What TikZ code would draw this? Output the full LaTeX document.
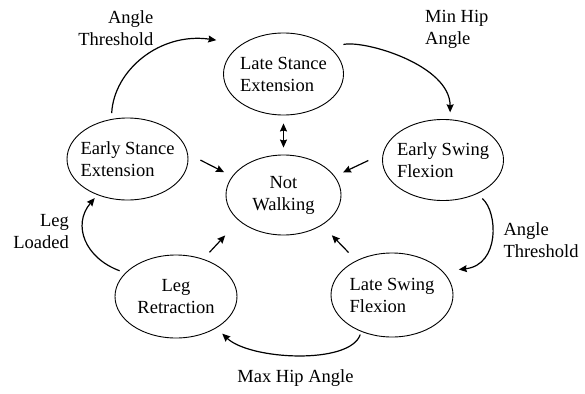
\documentclass[tikz,border=0pt]{standalone}
\usepackage{fontspec}
\setmainfont{Liberation Serif}
\usetikzlibrary{shapes.geometric,arrows.meta}
\begin{document}
\begin{tikzpicture}[x=1pt,y=-1pt,
  st/.style={ellipse,draw,line width=0.9pt,inner xsep=-15pt,inner ysep=0pt,
    minimum width=121pt,minimum height=82pt,font=\fontsize{18.5}{22}\selectfont},
  lbl/.style={inner sep=0pt,font=\fontsize{18.5}{22}\selectfont},
  arr/.style={line width=1.2pt,-{Stealth[length=8pt,width=7pt,inset=1pt]}},
  darr/.style={line width=1.2pt,{Stealth[length=8pt,width=7pt,inset=1pt]}-{Stealth[length=8pt,width=7pt,inset=1pt]}}
]
\useasboundingbox (0,0) rectangle (585,393);

% states
\node[st,align=left,minimum width=120pt,minimum height=82pt] (lse) at (283.5,74) {Late Stance\\Extension};
\node[st,align=left,minimum width=121pt,minimum height=81pt] (esf) at (443,160) {Early Swing\\Flexion};
\node[st,align=left] (ese) at (127.5,159) {Early Stance\\Extension};
\node[st,align=center,minimum width=115pt,minimum height=80pt] (nw) at (283.5,195) {Not\\Walking};
\node[st,align=center,minimum width=122pt,minimum height=83pt] (lr) at (176,296.5) {Leg\\Retraction};
\node[st,align=left,minimum width=122pt,minimum height=84pt] (lsf) at (392,295) {Late Swing\\Flexion};

% transitions to Not Walking
\draw[arr,shorten <=14pt,shorten >=9pt] (ese.5) -- (nw.160);
\draw[arr,shorten <=16pt,shorten >=9pt] (esf.174) -- (nw.20);
\draw[arr,shorten <=9pt,shorten >=20pt] (lr.54) -- (nw.210);
\draw[arr,shorten <=11pt,shorten >=14pt] (lsf.136) -- (nw.322);
\draw[darr,shorten <=8pt,shorten >=7pt] (lse.south) -- (nw.north);

% cycle
\draw[arr,shorten <=6pt,shorten >=26pt] (ese.112) .. controls (114,70) and (160,32) .. (lse.144);
\draw[arr,shorten <=14pt,shorten >=7pt] (lse.30) .. controls (365,40) and (450,65) .. (esf.80);
\draw[arr,shorten <=7pt,shorten >=16pt] (esf.-45) .. controls (498,212) and (500,265) .. (lsf.25);
\draw[arr,shorten <=3pt,shorten >=8pt] (lsf.-130) .. controls (350,365) and (250,360) .. (lr.-38);
\draw[arr,shorten <=6pt,shorten >=4pt] (lr.155) .. controls (85,258) and (72,225) .. (ese.-130);

% labels
\node[lbl,align=right,anchor=north east] (l1) at (153.5,10.5) {Angle\\Threshold};
\node[lbl,align=left,anchor=north west] (l2) at (425,10.5) {Min Hip\\Angle};
\node[lbl,align=left,anchor=north west] (l3) at (503.3,222.5) {Angle\\Threshold};
\node[lbl,align=right,anchor=north east] (l4) at (69,214.5) {Leg\\Loaded};
\node[lbl,anchor=base] (l5) at (295.5,382) {Max Hip Angle};
\end{tikzpicture}
\end{document}
